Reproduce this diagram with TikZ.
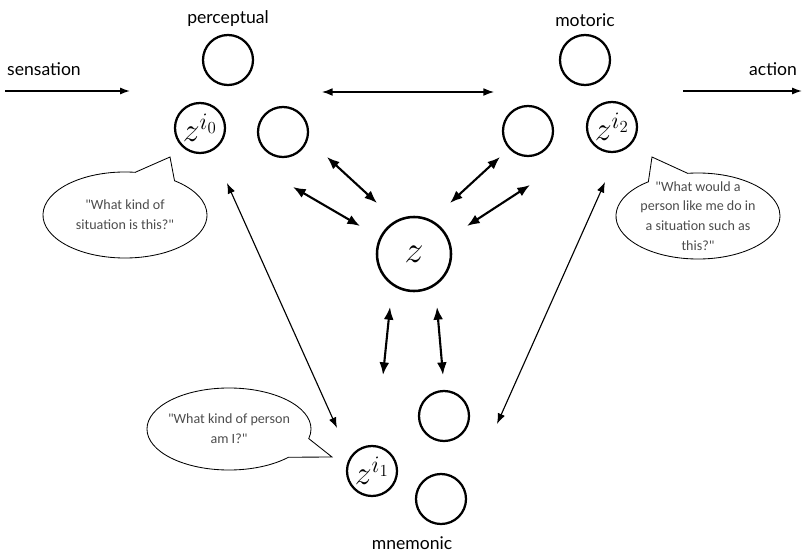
\RequirePackage{fix-cm}
\documentclass[tikz,border=0pt]{standalone}
\usepackage{fontspec}
\setsansfont{Lato}
\newfontfamily\handfont{Carlito}
\usetikzlibrary{positioning,shapes.callouts,arrows.meta}

\begin{document}
\begin{tikzpicture}[
  x=0.025cm, y=-0.025cm,
  unit/.style={circle, draw, line width=1.6pt, minimum size=1.25cm, inner sep=0pt, font=\fontsize{24}{24}\selectfont},
  hub/.style={unit, line width=1.8pt, minimum size=1.85cm, font=\fontsize{27}{27}\selectfont},
  lbl/.style={font=\sffamily\fontsize{12.5}{15}\selectfont, inner sep=0pt},
  bubble/.style={ellipse callout, draw, line width=0.6pt, minimum width=4.1cm, minimum height=2.15cm, callout pointer arc=30},
  say/.style={font=\handfont\fontsize{10}{14}\selectfont, text=black!70, align=center},
  link/.style={{Latex[length=9pt,width=7pt]}-{Latex[length=9pt,width=7pt]}, line width=1.5pt},
  reach/.style={{Latex[length=7.5pt,width=5.5pt]}-{Latex[length=7.5pt,width=5.5pt]}, line width=0.8pt},
  flow/.style={-{Latex[length=7pt,width=5pt]}, line width=1pt}
]
\useasboundingbox (0,0) rectangle (804,552);

\node[unit] (per) at (228,60) {};
\node[unit] (pz) at (200,128) {$z^{i_0}$};
\node[unit] (pr) at (283,132) {};
\node[unit] (mot) at (585,60) {};
\node[unit] (ml) at (528,131) {};
\node[unit] (mz) at (612,127) {$z^{i_2}$};
\node[hub] (z) at (414,254) {$z$};
\node[unit] (mn) at (444,416) {};
\node[unit] (nz) at (372,471) {$z^{i_1}$};
\node[unit] (nb) at (441,499) {};

\node[lbl, above=5pt of per] {perceptual};
\node[lbl, above=5pt of mot] {motoric};
\node[lbl] (mnem) at (412,543) {mnemonic};
\node[lbl] (sens) at (44,69) {sensation};
\node[lbl] (act) at (773,69) {action};

\coordinate (s0) at (5,91);
\coordinate (s1) at (130,91);
\coordinate (a0) at (683,91);
\coordinate (a1) at (802,91);
\coordinate (t0) at (322,92);
\coordinate (t1) at (494,92);
\draw[flow] (s0) -- (s1);
\draw[flow] (a0) -- (a1);
\draw[reach] (t0) -- (t1);

\coordinate (k1) at (327,157);
\coordinate (k2) at (377,203);
\coordinate (k3) at (293,187);
\coordinate (k4) at (360,226);
\coordinate (k5) at (500,157);
\coordinate (k6) at (450,203);
\coordinate (k7) at (530,185);
\coordinate (k8) at (467,226);
\coordinate (k9) at (390,307);
\coordinate (k10) at (383,375);
\coordinate (k11) at (437,307);
\coordinate (k12) at (443,375);
\draw[link] (k1) -- (k2);
\draw[link] (k3) -- (k4);
\draw[link] (k5) -- (k6);
\draw[link] (k7) -- (k8);
\draw[link] (k9) -- (k10);
\draw[link] (k11) -- (k12);

\coordinate (r1) at (227,183);
\coordinate (r2) at (337,428);
\coordinate (r3) at (605,182);
\coordinate (r4) at (497,424);
\draw[reach] (r1) -- (r2);
\draw[reach] (r3) -- (r4);

\node[bubble, callout absolute pointer={(170,157)}] (bubP) at (125,215) {};
\node[say] at (bubP.center) {"What kind of\\situation is this?"};
\node[bubble, callout absolute pointer={(652,157)}] (bubM) at (698,216) {};
\node[say] at (bubM.center) {"What would a\\person like me do in\\a situation such as\\this?"};
\node[bubble, minimum height=2.05cm, callout absolute pointer={(332,457)}] (bubN) at (229,429) {};
\node[say] at (bubN.center) {"What kind of person\\am I?"};
\end{tikzpicture}
\end{document}
